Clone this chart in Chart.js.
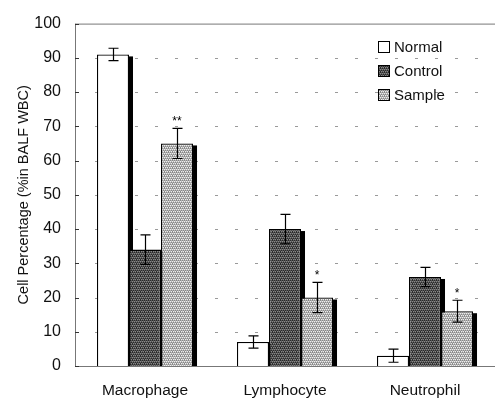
<!DOCTYPE html>
<html>
<head>
<meta charset="utf-8">
<script src="https://cdn.jsdelivr.net/npm/chart.js@4.4.0/dist/chart.umd.min.js"></script>
<style>
  html, body { margin: 0; padding: 0; background: #fff; }
  #wrap { width: 495px; height: 401px; }
</style>
</head>
<body>
<div id="wrap"><canvas id="chart"></canvas></div>
<script>
const categories = ["Macrophage", "Lymphocyte", "Neutrophil"];
const seriesNames = ["Normal", "Control", "Sample"];
const normalValues = [91, 7, 3];
const controlValues = [34, 40, 26];
const sampleValues = [65, 20, 16];
const normalErrors = [1.8, 1.8, 1.9];
const controlErrors = [4.3, 4.3, 2.8];
const sampleErrors = [4.4, 4.4, 3.2];
const sampleMarks = ["**", "*", "*"];
const yTicks = [0, 10, 20, 30, 40, 50, 60, 70, 80, 90, 100];

// small textures like the scanned hatch fills
function makePattern(base, dark, light) {
    const c = document.createElement("canvas");
    c.width = 4; c.height = 4;
    const g = c.getContext("2d");
    g.fillStyle = base;
    g.fillRect(0, 0, 4, 4);
    g.fillStyle = dark;
    for (let i = 0; i < 4; i++) g.fillRect(i, (i * 2) % 4, 1, 1);
    g.fillRect(0, 3, 1, 1); g.fillRect(2, 1, 1, 1);
    g.fillStyle = light;
    for (let i = 0; i < 4; i++) g.fillRect(i, (i * 2 + 1) % 4, 1, 1);
    return g.createPattern(c, "repeat");
}
const ctx = document.getElementById("chart").getContext("2d");
const controlFill = makePattern("#555", "#2a2a2a", "#888");
const sampleFill = makePattern("#b4b4b4", "#888", "#eee");
const fills = ["#ffffff", controlFill, sampleFill];
const errors = [normalErrors, controlErrors, sampleErrors];

const FONT = "'Liberation Sans', Arial, sans-serif";

const extras = {
    id: "extras",
    beforeDatasetsDraw(chart) {
        const c = chart.ctx;
        const area = chart.chartArea;
        // gridlines (sparse dashes)
        const y = chart.scales.y;
        c.save();
        c.strokeStyle = "#9a9a9a";
        c.lineWidth = 1;
        c.setLineDash([3, 17]);
        yTicks.forEach(v => {
            if (v === 0 || v === 100) return;
            const py = Math.round(y.getPixelForValue(v)) + 0.5;
            c.beginPath();
            c.moveTo(area.left, py);
            c.lineTo(area.right, py);
            c.stroke();
        });
        c.setLineDash([]);
        // frame
        c.strokeStyle = "#777";
        c.beginPath();
        c.moveTo(area.left + 0.5, area.top + 0.5);
        c.lineTo(area.right, area.top + 0.5);
        c.moveTo(area.left + 0.5, area.top);
        c.lineTo(area.left + 0.5, area.bottom + 0.5);
        c.lineTo(area.right, area.bottom + 0.5);
        c.stroke();
        // small inner ticks
        c.strokeStyle = "#333";
        yTicks.forEach(v => {
            const py = Math.round(y.getPixelForValue(v)) + 0.5;
            c.beginPath();
            c.moveTo(area.left, py);
            c.lineTo(area.left + 4, py);
            c.stroke();
        });
        // bar shadows
        c.fillStyle = "#000";
        chart.data.datasets.forEach((ds, i) => {
            chart.getDatasetMeta(i).data.forEach(bar => {
                const half = bar.width / 2;
                c.fillRect(bar.x + half, bar.y + 2, 4, bar.base - bar.y - 2);
            });
        });
        c.restore();
    },
    afterDatasetsDraw(chart) {
        const c = chart.ctx;
        const y = chart.scales.y;
        c.save();
        c.strokeStyle = "#000";
        c.lineWidth = 1.2;
        chart.data.datasets.forEach((ds, i) => {
            chart.getDatasetMeta(i).data.forEach((bar, j) => {
                const v = ds.data[j];
                const e = errors[i][j];
                const top = y.getPixelForValue(v + e);
                const bot = y.getPixelForValue(v - e);
                const x = Math.round(bar.x) + 0.5;
                c.beginPath();
                c.moveTo(x, top); c.lineTo(x, bot);
                c.moveTo(x - 5, top); c.lineTo(x + 5, top);
                c.moveTo(x - 5, bot); c.lineTo(x + 5, bot);
                c.stroke();
                if (i === 2) {
                    c.fillStyle = "#000";
                    c.font = "12px " + FONT;
                    c.textAlign = "center";
                    c.textBaseline = "bottom";
                    c.fillText(sampleMarks[j], bar.x, top - 1);
                }
            });
        });
        // legend
        const lx = 378, ly = [47, 71, 95];
        c.font = "15px " + FONT;
        c.textAlign = "left";
        c.textBaseline = "middle";
        seriesNames.forEach((name, i) => {
            c.fillStyle = fills[i];
            c.fillRect(lx, ly[i] - 6, 11, 12);
            c.strokeStyle = "#000";
            c.lineWidth = 1;
            c.strokeRect(lx + 0.5, ly[i] - 5.5, 11, 11);
            c.fillStyle = "#111";
            c.fillText(name, lx + 16, ly[i] + 1);
        });
        c.restore();
    }
};

new Chart(ctx, {
    type: "bar",
    data: {
        labels: categories,
        datasets: [
            { label: seriesNames[0], data: normalValues, backgroundColor: fills[0] },
            { label: seriesNames[1], data: controlValues, backgroundColor: fills[1] },
            { label: seriesNames[2], data: sampleValues, backgroundColor: fills[2] }
        ].map(d => Object.assign(d, {
            borderColor: "#000",
            borderWidth: 1.3,
            borderSkipped: "bottom",
            categoryPercentage: 0.686,
            barPercentage: 1
        }))
    },
    options: {
        responsive: true,
        maintainAspectRatio: false,
        animation: false,
        layout: { padding: { top: 16, right: 0, bottom: 0, left: 0 } },
        plugins: {
            legend: { display: false },
            tooltip: { enabled: false }
        },
        scales: {
            x: {
                grid: { display: false, drawTicks: false },
                border: { display: false },
                ticks: { color: "#111", font: { family: FONT, size: 15.5 }, padding: 15 },
                afterFit: s => { s.height = 35; }
            },
            y: {
                min: 0,
                max: 100,
                grid: { display: false, drawTicks: false },
                border: { display: false },
                ticks: { stepSize: 10, color: "#111", font: { family: FONT, size: 16 }, padding: 14 },
                title: {
                    display: true,
                    text: "Cell Percentage (%in BALF WBC)",
                    color: "#111",
                    font: { family: FONT, size: 14.5 },
                    padding: { top: 15, bottom: 0 }
                },
                afterFit: s => { s.width = 75; }
            }
        }
    },
    plugins: [extras]
});
</script>
</body>
</html>
